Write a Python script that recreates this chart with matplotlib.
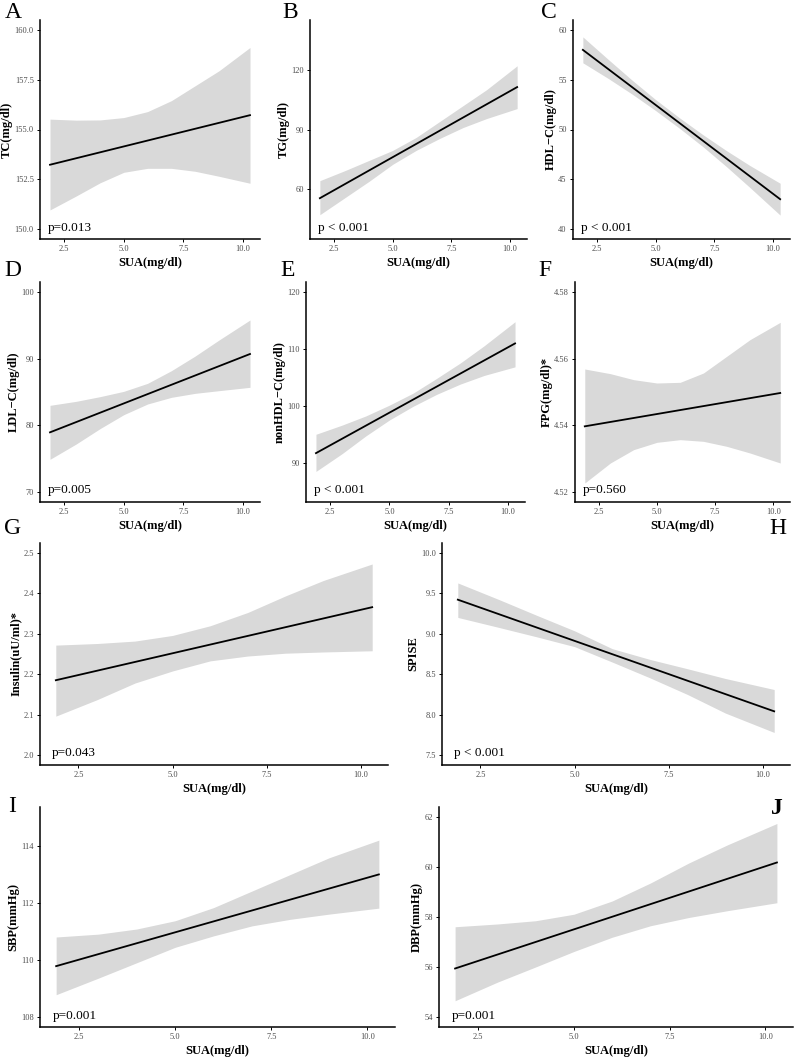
import matplotlib
matplotlib.use("Agg")
import matplotlib.pyplot as plt

plt.rcParams['font.family'] = ['Liberation Serif', 'DejaVu Serif']

sua = [1.9, 3.0, 4.0, 5.0, 6.0, 7.0, 8.0, 9.0, 10.3]
sua_ends = [1.9, 10.3]

# A: TC
tc_line = [153.23, 155.72]
tc_upper = [155.52, 155.47, 155.48, 155.60, 155.90, 156.45, 157.20, 157.95, 159.12]
tc_lower = [150.96, 151.66, 152.32, 152.85, 153.05, 153.05, 152.90, 152.65, 152.30]

# B: TG
tg_line = [55.5, 111.3]
tg_upper = [64.3, 69.5, 74.5, 79.5, 86.0, 94.0, 102.0, 110.0, 122.0]
tg_lower = [47.2, 56.0, 64.0, 72.5, 79.5, 85.5, 91.0, 95.5, 100.5]

# C: HDL-C
hdl_line = [58.0, 43.0]
hdl_upper = [59.3, 57.0, 54.95, 53.0, 51.2, 49.5, 47.9, 46.4, 44.6]
hdl_lower = [56.7, 55.1, 53.55, 51.9, 50.15, 48.3, 46.3, 44.2, 41.4]

# D: LDL-C
ldl_line = [78.95, 90.7]
ldl_upper = [83.0, 83.6, 84.3, 85.1, 86.3, 88.2, 90.4, 92.8, 95.8]
ldl_lower = [74.9, 77.2, 79.5, 81.6, 83.2, 84.2, 84.8, 85.2, 85.7]

# E: nonHDL-C
nonhdl_line = [91.8, 111.0]
nonhdl_upper = [95.1, 96.7, 98.3, 100.2, 102.3, 104.9, 107.6, 110.6, 114.8]
nonhdl_lower = [88.6, 91.7, 94.8, 97.6, 100.0, 102.1, 103.9, 105.4, 106.9]

# F: FPG
fpg_line = [4.5397, 4.5497]
fpg_upper = [4.5569, 4.5555, 4.5537, 4.5527, 4.5529, 4.5557, 4.5607, 4.5657, 4.5709]
fpg_lower = [4.5227, 4.5287, 4.5327, 4.5349, 4.5357, 4.5352, 4.5337, 4.5317, 4.5287]

# G: Insulin
ins_line = [2.185, 2.366]
ins_upper = [2.272, 2.276, 2.282, 2.296, 2.320, 2.353, 2.394, 2.432, 2.473]
ins_lower = [2.096, 2.137, 2.178, 2.208, 2.233, 2.245, 2.252, 2.255, 2.258]

# H: SPISE
spise_line = [9.423, 8.04]
spise_upper = [9.63, 9.423, 9.228, 9.037, 8.816, 8.683, 8.567, 8.447, 8.31]
spise_lower = [9.203, 9.078, 8.962, 8.841, 8.65, 8.455, 8.248, 8.019, 7.778]

# I: SBP
sbp_line = [109.78, 112.99]
sbp_upper = [110.8, 110.9, 111.08, 111.37, 111.83, 112.41, 112.99, 113.57, 114.19]
sbp_lower = [108.78, 109.36, 109.9, 110.44, 110.84, 111.19, 111.42, 111.6, 111.81]

# J: DBP
dbp_line = [55.94, 60.18]
dbp_upper = [57.61, 57.72, 57.85, 58.11, 58.64, 59.36, 60.16, 60.88, 61.74]
dbp_lower = [54.65, 55.39, 56.0, 56.62, 57.19, 57.65, 57.98, 58.25, 58.57]

panels = [
    ("A", "TC(mg/dl)", tc_line, tc_upper, tc_lower, [150, 152.5, 155, 157.5, 160], "{:.1f}", "p=0.013"),
    ("B", "TG(mg/dl)", tg_line, tg_upper, tg_lower, [60, 90, 120], "{:.0f}", "p < 0.001"),
    ("C", "HDL\u2212C(mg/dl)", hdl_line, hdl_upper, hdl_lower, [40, 45, 50, 55, 60], "{:.0f}", "p < 0.001"),
    ("D", "LDL\u2212C(mg/dl)", ldl_line, ldl_upper, ldl_lower, [70, 80, 90, 100], "{:.0f}", "p=0.005"),
    ("E", "nonHDL\u2212C(mg/dl)", nonhdl_line, nonhdl_upper, nonhdl_lower, [90, 100, 110, 120], "{:.0f}", "p < 0.001"),
    ("F", "FPG(mg/dl)*", fpg_line, fpg_upper, fpg_lower, [4.52, 4.54, 4.56, 4.58], "{:.2f}", "p=0.560"),
    ("G", "Insulin(uU/ml)*", ins_line, ins_upper, ins_lower, [2.0, 2.1, 2.2, 2.3, 2.4, 2.5], "{:.1f}", "p=0.043"),
    ("H", "SPISE", spise_line, spise_upper, spise_lower, [7.5, 8.0, 8.5, 9.0, 9.5, 10.0], "{:.1f}", "p < 0.001"),
    ("I", "SBP(mmHg)", sbp_line, sbp_upper, sbp_lower, [108, 110, 112, 114], "{:.0f}", "p=0.001"),
    ("J", "DBP(mmHg)", dbp_line, dbp_upper, dbp_lower, [54, 56, 58, 60, 62], "{:.0f}", "p=0.001"),
]
y_limits = {"A": (150, 160), "B": (40, 140), "C": (40, 60), "D": (70, 100), "E": (85, 120),
            "F": (4.52, 4.58), "G": (2.0, 2.5), "H": (7.5, 10.0), "I": (108, 115), "J": (54, 62)}

# axes boxes in pixels: left, top, right, bottom
boxes = {
    "A": (40, 20, 260, 239), "B": (310, 20, 527, 239), "C": (573, 20, 790, 239),
    "D": (40, 282, 260, 502), "E": (306, 282, 525, 502), "F": (575, 282, 790, 502),
    "G": (40, 543, 388, 765), "H": (442, 543, 790, 765),
    "I": (40, 807, 395, 1027), "J": (439, 807, 793, 1027),
}
# panel letter positions in pixels
letters = {"A": (13, 12), "B": (290, 12), "C": (549, 12), "D": (13, 270), "E": (288, 270),
           "F": (545, 270), "G": (13, 528), "H": (778, 528), "I": (12, 806), "J": (777, 808)}

W, H = 800, 1060
fig = plt.figure(figsize=(W / 100, H / 100), dpi=100)

for key, ylab, line, upper, lower, yticks, fmt, ptxt in panels:
    l, t, r, b = boxes[key]
    ax = fig.add_axes([l / W, 1 - b / H, (r - l) / W, (b - t) / H])
    ax.fill_between(sua, lower, upper, color='#d9d9d9', lw=0)
    ax.plot(sua_ends, line, color='black', lw=1.3)
    lo, hi = y_limits[key]
    pad = (hi - lo) * 0.05
    ax.set_ylim(lo - pad, hi + pad)
    ax.set_xlim(1.9 - 0.42, 10.3 + 0.42)
    ax.set_xticks([2.5, 5.0, 7.5, 10.0])
    ax.set_xticklabels(["2.5", "5.0", "7.5", "10.0"])
    ax.set_yticks(yticks)
    ax.set_yticklabels([fmt.format(v) for v in yticks])
    for s in ['top', 'right']:
        ax.spines[s].set_visible(False)
    for s in ['left', 'bottom']:
        ax.spines[s].set_linewidth(1.1)
    ax.tick_params(length=2.5, width=0.7, pad=2, labelsize=6, labelcolor='#4d4d4d')
    ax.set_xlabel("SUA(mg/dl)", fontsize=9, fontweight='bold', labelpad=3)
    ax.set_ylabel(ylab, fontsize=9, fontweight='bold', labelpad=1)
    ax.text(0.035, 0.025, ptxt, transform=ax.transAxes, fontsize=9.5, ha='left', va='bottom')
    lx, ly = letters[key]
    fig.text(lx / W, 1 - ly / H, key, fontsize=17, ha='center', va='center',
             fontweight='bold' if key == "J" else 'normal')

fig.savefig("out.png", dpi=100)
